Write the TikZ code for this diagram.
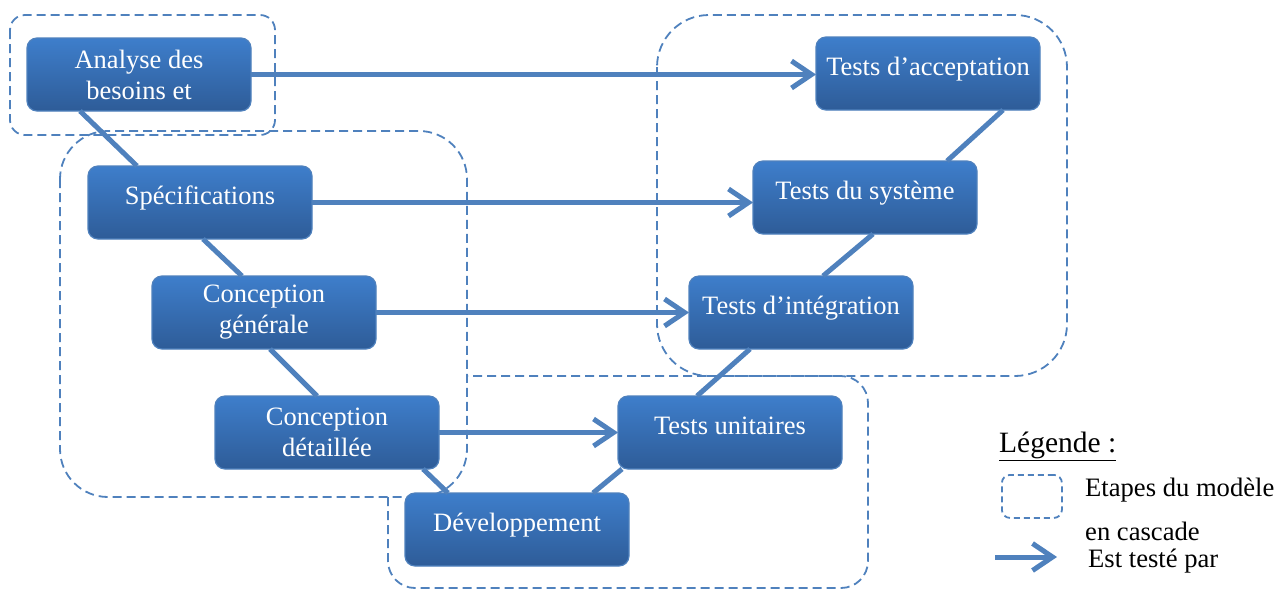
\documentclass[tikz,border=0pt]{standalone}
\usepackage{fontspec}
\setmainfont{Liberation Serif}
\usepackage{tikz}
\usetikzlibrary{arrows.meta,positioning,calc}
\definecolor{stepblue}{RGB}{79,129,189}
\definecolor{boxtop}{RGB}{62,126,203}
\definecolor{boxbottom}{RGB}{46,92,152}

\begin{document}
\begin{tikzpicture}[x=1pt, y=-1pt,
    phase/.style={rectangle, draw=stepblue, line width=1.2pt, top color=boxtop, bottom color=boxbottom, text=white, align=center, minimum width=224pt, minimum height=73pt, inner sep=0pt, outer sep=0pt, rounded corners=10pt, font=\fontsize{26.5}{31}\selectfont},
    oneline/.style={phase, text height=18pt, text depth=14pt},
    link/.style={line width=5pt, stepblue},
    arrow/.style={-{Straight Barb[length=20pt,width=27pt]}, line width=5pt, stepblue},
    region/.style={draw=stepblue, line width=1.8pt, dash pattern=on 9pt off 5pt},
    legend/.style={anchor=base west, inner sep=0pt, font=\fontsize{26.6}{31}\selectfont}]
    \useasboundingbox (0,0) rectangle (1277,590);

    \draw[region, rounded corners=15pt] (10,15) rectangle (275,135);
    \draw[region, rounded corners=48pt] (60,131) rectangle (467,497);
    \draw[region, rounded corners=52pt] (657,15) rectangle (1067,376);
    \draw[region, rounded corners=27pt] (388,497) -- (388,588) -- (868,588) -- (868,376) -- (467,376);

    \node[phase] (ana) at (139,74.5) {Analyse des\\besoins et};
    \node[oneline, below=55pt of ana, xshift=61pt] (spec) {Spécifications};
    \node[phase, below=37pt of spec, xshift=64pt] (cgen) {Conception\\générale};
    \node[phase, below=47pt of cgen, xshift=63pt] (cdet) {Conception\\détaillée};
    \node[oneline, below=24pt of cdet, xshift=190pt] (dev) {Développement};
    \node[oneline, above=24pt of dev, xshift=213pt] (tunit) {Tests unitaires};
    \node[oneline, above=47pt of tunit, xshift=71pt] (tint) {Tests d’intégration};
    \node[oneline, above=42pt of tint, xshift=64pt] (tsys) {Tests du système};
    \node[oneline, above=51pt of tsys, xshift=63pt] (tacc) {Tests d’acceptation};

    \draw[link] ([xshift=53pt]ana.south west) -- ([xshift=49pt]spec.north west);
    \draw[link] ([xshift=115pt]spec.south west) -- ([xshift=90pt]cgen.north west);
    \draw[link] ([xshift=118pt]cgen.south west) -- ([xshift=102pt]cdet.north west);
    \draw[link] ([xshift=208pt]cdet.south west) -- ([xshift=43pt]dev.north west);
    \draw[link] ([xshift=188pt]dev.north west) -- ([xshift=4pt]tunit.south west);
    \draw[link] ([xshift=79pt]tunit.north west) -- ([xshift=61pt]tint.south west);
    \draw[link] ([xshift=134pt]tint.north west) -- ([xshift=120pt]tsys.south west);
    \draw[link] ([xshift=194pt]tsys.north west) -- ([xshift=187pt]tacc.south west);

    \draw[arrow] (ana.east) -- (ana.east -| tacc.west);
    \draw[arrow] (spec.east) -- (spec.east -| tsys.west);
    \draw[arrow] (cgen.east) -- (cgen.east -| tint.west);
    \draw[arrow] (cdet.east) -- (cdet.east -| tunit.west);

    \node[legend, font=\fontsize{29.5}{31}\selectfont] (legtitle) at (999,452) {\underline{Légende :}};
    \node[region, dash pattern=on 6pt off 4pt, rounded corners=8pt, minimum width=60pt, minimum height=43pt, inner sep=0pt, anchor=north west] (legbox) at (1001,474) {};
    \node[legend] (legstep) at (1085,496) {Etapes du modèle};
    \node[legend] (legcasc) at (1085,540) {en cascade};
    \node[legend] (legtest) at (1088,567) {Est testé par};
    \coordinate (legfrom) at (995,557);
    \coordinate (legto) at (1057,557);
    \draw[arrow] (legfrom) -- (legto);
\end{tikzpicture}
\end{document}
